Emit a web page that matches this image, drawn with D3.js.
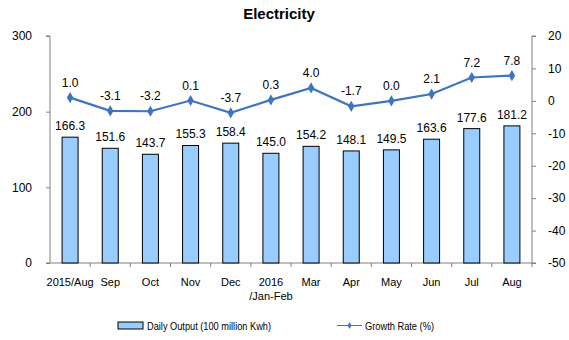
<!DOCTYPE html>
<html><head><meta charset="utf-8">
<script src="https://cdn.jsdelivr.net/npm/d3@7/dist/d3.min.js"></script>
<style>body{margin:0;background:#fff;} text{font-family:"Liberation Sans",Arial,sans-serif;}</style>
</head><body><svg id="c" width="569" height="340"></svg>
<script>
const categories = ["2015/Aug","Sep","Oct","Nov","Dec","2016\n/Jan-Feb","Mar","Apr","May","Jun","Jul","Aug"];
const dailyOutput = [166.3,151.6,143.7,155.3,158.4,145.0,154.2,148.1,149.5,163.6,177.6,181.2];
const growthRate = [1.0,-3.1,-3.2,0.1,-3.7,0.3,4.0,-1.7,0.0,2.1,7.2,7.8];
const leftTicks = [0,100,200,300];
const rightTicks = [-50,-40,-30,-20,-10,0,10,20];

const svg = d3.select("#c");
const L = 50, R = 532, T = 36, B = 263;
const x = d3.scaleBand().domain(categories).range([L, R]);
const yL = d3.scaleLinear().domain([0,300]).range([B, T]);
const yR = d3.scaleLinear().domain([-50,20]).range([B, T]);

svg.append("text").attr("x",279).attr("y",19).attr("text-anchor","middle")
  .attr("font-size",15).attr("font-weight","bold").text("Electricity");

// left axis
const gl = svg.append("g").attr("transform",`translate(${L},0)`)
  .call(d3.axisLeft(yL).tickValues(leftTicks).tickSize(4).tickPadding(14).tickFormat(d=>String(d)));
gl.selectAll("path,line").attr("stroke","#808080");
gl.select(".domain").attr("d",`M-4,${T}H0V${B}H-4`);
gl.selectAll("text").attr("font-size",12).attr("fill","#000").style("font-family","Liberation Sans, Arial");

// right axis
const gr = svg.append("g").attr("transform",`translate(${R},0)`)
  .call(d3.axisRight(yR).tickValues(rightTicks).tickSize(4).tickPadding(12).tickFormat(d=>String(d)));
gr.selectAll("path,line").attr("stroke","#808080");
gr.select(".domain").attr("d",`M4,${T}H0V${B}H4`);
gr.selectAll("text").attr("font-size",12).attr("fill","#000").style("font-family","Liberation Sans, Arial");

// x axis
svg.append("line").attr("x1",L).attr("x2",R).attr("y1",B).attr("y2",B).attr("stroke","#808080");
categories.forEach((c,i)=>{
  const xx = x(c)+x.bandwidth();
  svg.append("line").attr("x1",xx).attr("x2",xx).attr("y1",B).attr("y2",B+4).attr("stroke","#808080");
});
categories.forEach(c=>{
  const parts = c.split("\n");
  const t = svg.append("text").attr("x",x(c)+x.bandwidth()/2).attr("y",286)
    .attr("text-anchor","middle").attr("font-size",11);
  parts.forEach((p,j)=>t.append("tspan").attr("x",x(c)+x.bandwidth()/2).attr("dy",j?14:0).text(p));
});

// bars
const bw = 16;
svg.selectAll("rect.bar").data(dailyOutput).join("rect").attr("class","bar")
  .attr("x",(d,i)=>x(categories[i])+x.bandwidth()/2-bw/2).attr("width",bw)
  .attr("y",d=>yL(d)).attr("height",d=>B-yL(d))
  .attr("fill","#99ccff").attr("stroke","#000").attr("stroke-width",1);
svg.selectAll("text.bl").data(dailyOutput).join("text").attr("class","bl")
  .attr("x",(d,i)=>x(categories[i])+x.bandwidth()/2).attr("y",d=>yL(d)-7)
  .attr("text-anchor","middle").attr("font-size",12).text(d=>d.toFixed(1));

// line
const line = d3.line().x((d,i)=>x(categories[i])+x.bandwidth()/2).y(d=>yR(d));
svg.append("path").datum(growthRate).attr("d",line).attr("fill","none")
  .attr("stroke","#3f74bf").attr("stroke-width",2.2);
const diamond = d3.symbol().type(d3.symbolDiamond).size(36);
svg.selectAll("path.m").data(growthRate).join("path").attr("class","m")
  .attr("d",diamond).attr("fill","#3f74bf")
  .attr("transform",(d,i)=>`translate(${x(categories[i])+x.bandwidth()/2},${yR(d)})`);
svg.selectAll("text.ll").data(growthRate).join("text").attr("class","ll")
  .attr("x",(d,i)=>x(categories[i])+x.bandwidth()/2).attr("y",d=>yR(d)-11)
  .attr("text-anchor","middle").attr("font-size",12).text(d=>d.toFixed(1));

// legend
svg.append("rect").attr("x",118).attr("y",322).attr("width",25).attr("height",7)
  .attr("fill","#99ccff").attr("stroke","#000");
svg.append("text").attr("x",147).attr("y",330).attr("font-size",10)
  .attr("textLength",124).attr("lengthAdjust","spacingAndGlyphs").text("Daily Output (100 million Kwh)");
svg.append("line").attr("x1",337).attr("x2",362).attr("y1",325.5).attr("y2",325.5).attr("stroke","#3f74bf").attr("stroke-width",1);
svg.append("path").attr("d",d3.symbol().type(d3.symbolDiamond).size(14)).attr("fill","#3f74bf").attr("transform","translate(349.5,325.5)");
svg.append("text").attr("x",365).attr("y",330).attr("font-size",10)
  .attr("textLength",69).attr("lengthAdjust","spacingAndGlyphs").text("Growth Rate (%)");
</script></body></html>
